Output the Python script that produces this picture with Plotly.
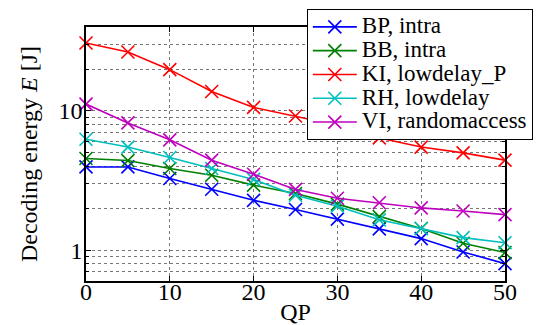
import plotly.graph_objects as go
import math

qp = [0, 5, 10, 15, 20, 25, 30, 35, 40, 45, 50]

bp_intra = [3.96, 3.96, 3.27, 2.74, 2.28, 1.96, 1.67, 1.42, 1.21, 0.97, 0.80]
bb_intra = [4.55, 4.40, 3.86, 3.45, 2.93, 2.55, 2.14, 1.74, 1.43, 1.12, 0.96]
ki_lowdelay_p = [30.8, 26.5, 19.8, 13.8, 10.6, 9.2, 7.9, 6.4, 5.5, 5.0, 4.43]
rh_lowdelay = [6.26, 5.5, 4.63, 3.86, 3.22, 2.48, 2.07, 1.65, 1.43, 1.23, 1.13]
vi_randomaccess = [11.2, 8.2, 6.2, 4.43, 3.51, 2.73, 2.36, 2.19, 2.01, 1.91, 1.80]

series = [
    ("BP, intra", bp_intra, "#0000ff"),
    ("BB, intra", bb_intra, "#008000"),
    ("KI, lowdelay_P", ki_lowdelay_p, "#ff0000"),
    ("RH, lowdelay", rh_lowdelay, "#00bfbf"),
    ("VI, randomaccess", vi_randomaccess, "#bf00bf"),
]

FONT = "Liberation Serif"

fig = go.Figure()
for name, vals, col in series:
    fig.add_trace(go.Scatter(
        x=qp, y=vals, mode="lines+markers",
        name="<span style=\"font-size:23px;font-family:'Liberation Serif'\">" + name + "</span>",
        line=dict(color=col, width=1.6),
        marker=dict(symbol="x-thin", size=13, line=dict(color=col, width=1.6)),
        cliponaxis=False,
    ))

fig.update_layout(
    width=544, height=325,
    margin=dict(l=86, r=39, t=27, b=44, autoexpand=False),
    paper_bgcolor="white", plot_bgcolor="white",
    font=dict(family=FONT, size=24, color="black"),
    showlegend=True,
    legend=dict(
        x=0.527, y=1.071, xanchor="left", yanchor="top",
        bgcolor="white", bordercolor="black", borderwidth=1,
        font=dict(family=FONT, size=16),
        tracegroupgap=0, itemwidth=44,
    ),
)

fig.update_xaxes(
    range=[0, 50], tickvals=[0, 10, 20, 30, 40, 50],
    showline=True, linecolor="black", linewidth=1.5, mirror="ticks",
    ticks="inside", ticklen=5, tickcolor="black",
    showgrid=True, gridcolor="#777777", griddash="dot", gridwidth=1,
    zeroline=False, automargin=False,
    tickfont=dict(size=24), ticklabelstandoff=-12,
    title=dict(text="QP", standoff=6, font=dict(size=24)),
)

fig.update_yaxes(
    type="log", range=[math.log10(0.6), math.log10(40.1)],
    tickvals=[1, 10], ticktext=["1", "10"],
    showline=True, linecolor="black", linewidth=1.5, mirror="ticks",
    ticks="inside", ticklen=5, tickcolor="black",
    showgrid=True, gridcolor="#777777", griddash="dot", gridwidth=1,
    minor=dict(
        tickvals=[0.6, 0.7, 0.8, 0.9, 2, 3, 4, 5, 6, 7, 8, 9, 20, 30, 40],
        showgrid=True, gridcolor="#777777", griddash="dot", gridwidth=1,
        ticks="inside", ticklen=3, tickcolor="black",
    ),
    zeroline=False, automargin=False,
    tickfont=dict(size=24), ticklabelstandoff=-3,
    title=dict(text="Decoding energy <i>E</i> [J]", standoff=14, font=dict(size=24)),
)

fig.write_html("out.html", config={"displayModeBar": False},
               post_script="document.body.style.margin='0';")
